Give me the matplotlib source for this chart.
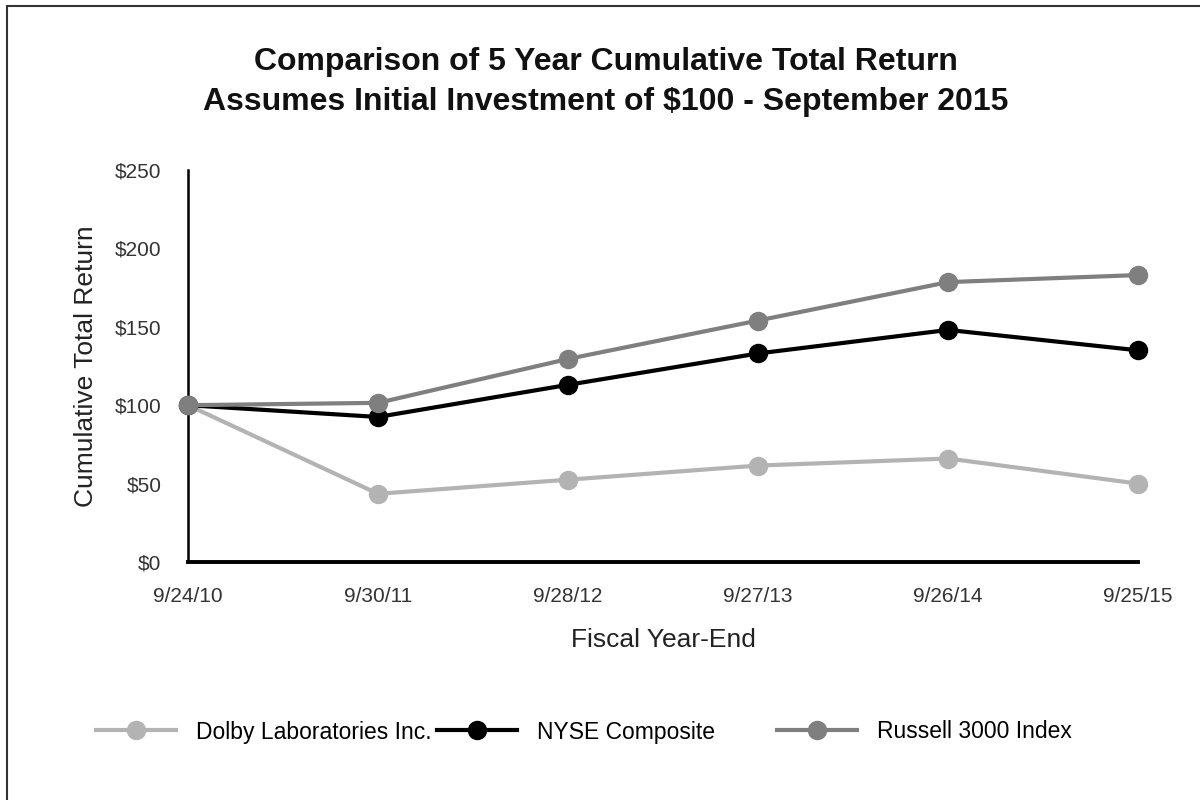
import matplotlib
matplotlib.use("Agg")
import matplotlib.pyplot as plt
from matplotlib.lines import Line2D
from matplotlib.patches import Rectangle

dates = ["9/24/10", "9/30/11", "9/28/12", "9/27/13", "9/26/14", "9/25/15"]
dolby = [100, 43.5, 52.5, 61.5, 66, 50]
nyse = [100, 92.5, 113, 133, 148, 135]
russell = [100, 101.5, 129.5, 154, 178.5, 183]
series_names = ["Dolby Laboratories Inc.", "NYSE Composite", "Russell 3000 Index"]
colors = ["#b3b3b3", "#000000", "#7f7f7f"]
yticks = [0, 50, 100, 150, 200, 250]

plt.rcParams['font.family'] = ['Liberation Sans', 'DejaVu Sans']

fig = plt.figure(figsize=(12, 8), dpi=100)
ax = fig.add_axes([0.1567, 0.2975, 0.7917, 0.49])

x = list(range(len(dates)))
for vals, c in zip([dolby, nyse, russell], colors):
    ax.plot(x, vals, color=c, lw=3, marker='o', markersize=13, zorder=3, clip_on=False)

ax.set_xlim(0, 5)
ax.set_ylim(0, 250)
ax.set_yticks(yticks)
ax.set_yticklabels([f"${v}" for v in yticks], fontsize=15, color="#333333")
ax.set_xticks(x)
ax.set_xticklabels(dates, fontsize=15, color="#333333")
ax.tick_params(axis='both', length=0)
ax.tick_params(axis='x', pad=18)
ax.tick_params(axis='y', pad=19)
for s in ['top', 'right']:
    ax.spines[s].set_visible(False)
ax.spines['left'].set_linewidth(1.8)
ax.spines['bottom'].set_linewidth(2.8)
ax.set_ylabel("Cumulative Total Return", fontsize=19, color="#222222", labelpad=12)
ax.set_xlabel("Fiscal Year-End", fontsize=19, color="#222222", labelpad=16)

fig.text(0.505, 0.922, "Comparison of 5 Year Cumulative Total Return",
         ha='center', va='center', fontsize=23, fontweight='bold', color="#111111")
fig.text(0.505, 0.872, "Assumes Initial Investment of $100 - September 2015",
         ha='center', va='center', fontsize=23, fontweight='bold', color="#111111")

# legend
leg_x = [0.08, 0.364, 0.6475]
for name, c, lx in zip(series_names, colors, leg_x):
    h = Line2D([], [], color=c, lw=3, marker='o', markersize=13)
    fig.legend([h], [name], loc='center left', bbox_to_anchor=(lx, 0.085), frameon=False,
               fontsize=16.5, handlelength=3.5, handletextpad=0.87, borderpad=0, borderaxespad=0)

fig.patches.append(Rectangle((0.006, -0.05), 1.1, 1.042, transform=fig.transFigure,
                             fill=False, edgecolor='#333333', lw=1.5))

fig.savefig("out.png", dpi=100)
